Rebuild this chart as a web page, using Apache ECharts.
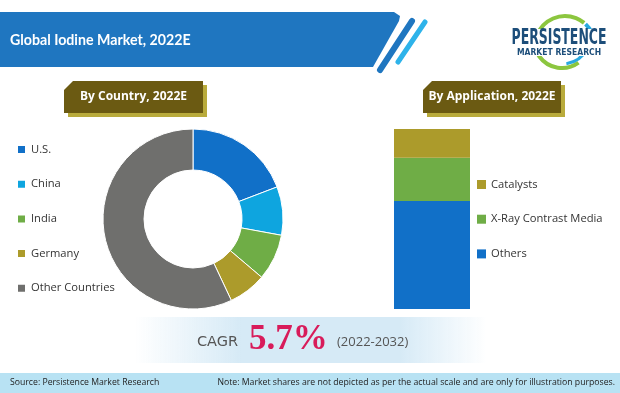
<!DOCTYPE html>
<html><head><meta charset="utf-8">
<script src="https://cdn.jsdelivr.net/npm/echarts@6/dist/echarts.min.js"></script>
<style>html,body{margin:0;padding:0;background:#fff}#c{width:620px;height:393px}</style>
</head><body><div id="c"></div>
<script>
const countries = ['U.S.', 'China', 'India', 'Germany', 'Other Countries'];
const countryShares = [19.2, 8.7, 8.3, 6.8, 57.0];
const countryColors = ['#1170c8', '#0ea5df', '#6fad46', '#ac9b2b', '#6f6f6d'];
const applications = ['Catalysts', 'X-Ray Contrast Media', 'Others'];
const applicationShares = [16, 24, 60];
const applicationColors = ['#ac9b2b', '#6fad46', '#1170c8'];
const cagrText = '5.7%';
const cagrPeriod = '(2022-2032)';

const chart = echarts.init(document.getElementById('c'), null, {renderer: 'canvas'});

function badge(x, y, w, h, text) {
  const c = 9;
  return [
    {type: 'polygon', shape: {points: [[x + 4 + c, y + 4], [x + 4 + w, y + 4], [x + 4 + w, y + 4 + h], [x + 4, y + 4 + h], [x + 4, y + 4 + c]]}, style: {fill: '#b9ab3c'}},
    {type: 'polygon', shape: {points: [[x + c, y], [x + w, y], [x + w, y + h], [x, y + h], [x, y + c]]}, style: {fill: '#6b5a12'}},
    {type: 'text', x: x + w / 2, y: y + h / 2, style: {text: text, fill: '#fff', font: 'bold 12px "Open Sans", sans-serif', align: 'center', verticalAlign: 'middle'}}
  ];
}

const bandGradient = {type: 'linear', x: 0, y: 0, x2: 1, y2: 0, colorStops: [
  {offset: 0, color: 'rgba(214,234,246,0)'}, {offset: 0.3, color: 'rgba(214,234,246,1)'},
  {offset: 0.75, color: 'rgba(214,234,246,1)'}, {offset: 1, color: 'rgba(214,234,246,0)'}]};

const graphics = [
  // header band
  {type: 'polygon', shape: {points: [[0, 12], [394, 12], [400, 16], [399, 21], [373, 67], [0, 67]]}, style: {fill: '#1f76c0'}},
  {type: 'line', shape: {x1: 412, y1: 21, x2: 380, y2: 70}, style: {stroke: '#1f76c0', lineWidth: 6, lineCap: 'round'}},
  {type: 'line', shape: {x1: 425, y1: 22, x2: 398, y2: 62}, style: {stroke: '#2eb3ea', lineWidth: 5, lineCap: 'round'}},
  {type: 'text', x: 10, y: 40, style: {text: 'Global Iodine Market, 2022E', fill: '#fff', font: 'bold 14.2px Lato, "Open Sans", sans-serif', verticalAlign: 'middle'}},
  // logo
  {type: 'arc', shape: {cx: 565, cy: 46, r: 30, startAngle: Math.PI * 1.12, endAngle: Math.PI * 1.72}, style: {stroke: '#8cc63f', lineWidth: 4, fill: null}},
  {type: 'arc', shape: {cx: 565, cy: 46, r: 30, startAngle: Math.PI * 1.74, endAngle: Math.PI * 1.95}, style: {stroke: '#29a9e0', lineWidth: 4, fill: null}},
  {type: 'arc', shape: {cx: 562, cy: 40, r: 28, startAngle: Math.PI * 0.3, endAngle: Math.PI * 0.85}, style: {stroke: '#8cc63f', lineWidth: 4, fill: null}},
  {type: 'arc', shape: {cx: 562, cy: 36, r: 28, startAngle: Math.PI * 0.15, endAngle: Math.PI * 0.45}, style: {stroke: '#29a9e0', lineWidth: 3, fill: null}},
  {type: 'rect', shape: {x: 512, y: 29, width: 94, height: 27}, style: {fill: '#fff'}},
  {type: 'text', x: 559, y: 39, scaleX: 0.66, originX: 0, originY: 0, style: {text: 'PERSISTENCE', fill: '#1d4e7a', font: 'bold 21px "DejaVu Sans Condensed", "Liberation Sans Narrow", sans-serif', align: 'center', verticalAlign: 'middle'}},
  {type: 'text', x: 559, y: 53, style: {text: 'MARKET RESEARCH', fill: '#1d4e7a', font: 'bold 8.5px "DejaVu Sans Condensed", sans-serif', align: 'center', verticalAlign: 'middle'}},
  // CAGR band
  {type: 'rect', shape: {x: 135, y: 317, width: 352, height: 46}, style: {fill: bandGradient}},
  {type: 'text', x: 197, y: 342, style: {text: 'CAGR', fill: '#555', font: '14.5px "DejaVu Sans", sans-serif', verticalAlign: 'middle'}},
  {type: 'text', x: 249, y: 340, style: {text: cagrText, fill: '#d81b5a', font: 'bold 35px "Liberation Serif", serif', verticalAlign: 'middle'}},
  {type: 'text', x: 337, y: 342, style: {text: cagrPeriod, fill: '#555', font: '13px "Open Sans", sans-serif', verticalAlign: 'middle'}},
  // footer
  {type: 'rect', shape: {x: 0, y: 373, width: 620, height: 20}, style: {fill: '#b8e2f3'}},
  {type: 'text', x: 10, y: 383, style: {text: 'Source: Persistence Market Research', fill: '#222', font: '8.7px "Open Sans", sans-serif', verticalAlign: 'middle'}},
  {type: 'text', x: 615, y: 383, style: {text: 'Note: Market shares are not depicted as per the actual scale and are only for illustration purposes.', fill: '#222', font: '8.7px "Open Sans", sans-serif', align: 'right', verticalAlign: 'middle'}}
].concat(badge(64, 81, 139, 32, 'By Country, 2022E'), badge(423, 81, 138, 32, 'By Application, 2022E'));

chart.setOption({
  animation: false,
  graphic: graphics,
  legend: [
    {orient: 'vertical', left: 16, top: 144, padding: 0, itemWidth: 9, itemHeight: 9, itemGap: 23.7, icon: 'rect',
     data: countries, textStyle: {fontSize: 11.2, color: '#333', fontFamily: '"Open Sans", sans-serif'}},
    {orient: 'vertical', left: 477, top: 179, padding: 0, itemWidth: 9, itemHeight: 9, itemGap: 23.7, icon: 'rect',
     data: applications, textStyle: {fontSize: 11.2, color: '#333', fontFamily: '"Open Sans", sans-serif'}}
  ],
  grid: {left: 394, top: 129, width: 76, height: 180},
  xAxis: {type: 'category', data: ['2022E'], show: false},
  yAxis: {type: 'value', min: 0, max: 100, show: false},
  series: [
    {type: 'pie', center: [193, 219], radius: [49, 90], startAngle: 90, clockwise: true,
     label: {show: false}, labelLine: {show: false}, emphasis: {disabled: true},
     itemStyle: {borderColor: '#fff', borderWidth: 1},
     data: countries.map((n, i) => ({name: n, value: countryShares[i], itemStyle: {color: countryColors[i]}}))},
    {type: 'bar', name: applications[2], stack: 'a', barWidth: 76, data: [applicationShares[2]], itemStyle: {color: applicationColors[2]}},
    {type: 'bar', name: applications[1], stack: 'a', barWidth: 76, data: [applicationShares[1]], itemStyle: {color: applicationColors[1]}},
    {type: 'bar', name: applications[0], stack: 'a', barWidth: 76, data: [applicationShares[0]], itemStyle: {color: applicationColors[0]}}
  ]
});
</script></body></html>
